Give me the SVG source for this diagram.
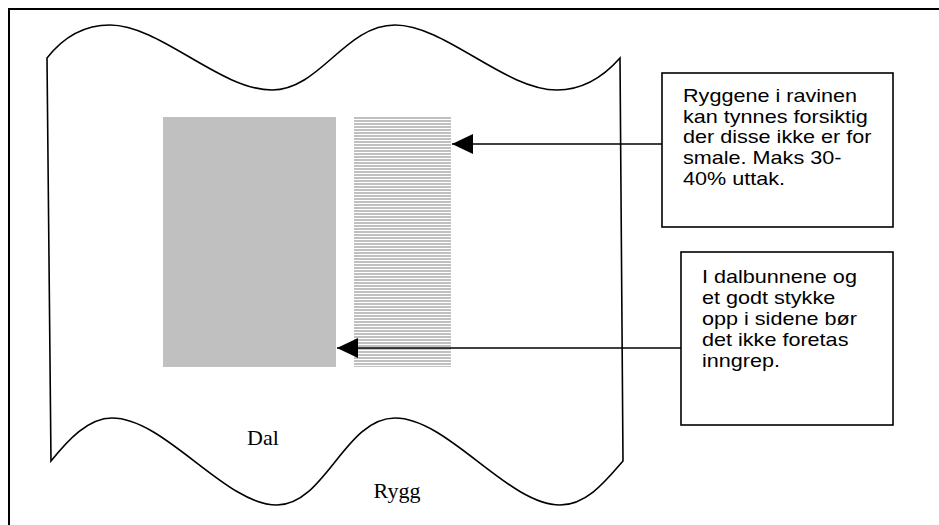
<svg xmlns="http://www.w3.org/2000/svg" width="939" height="525" viewBox="0 0 939 525">
<defs>
<style>
.frame{fill:none;stroke:#000;stroke-width:2}
.wave{fill:none;stroke:#000;stroke-width:1.6}
.box{fill:#fff;stroke:#000;stroke-width:1.6}
.note{font-family:"Liberation Sans",Arial,sans-serif;font-size:18px;fill:#000}
.lbl{font-family:"Liberation Serif","Times New Roman",serif;font-size:22px;fill:#000;text-anchor:middle}
.conn{stroke:#000;stroke-width:1.6;fill:none}
</style>
<pattern id="stripes" x="0" y="117" width="8" height="3" patternUnits="userSpaceOnUse">
<rect x="0" y="0" width="8" height="3" fill="#ffffff"/>
<rect x="0" y="0" width="8" height="2" fill="#c0c0c0"/>
</pattern>
<marker id="arr" markerWidth="21" markerHeight="20" refX="21" refY="10" orient="auto" markerUnits="userSpaceOnUse">
<path d="M0,0 L21,10 L0,20 Z" fill="#000"/>
</marker>
</defs>
<g id="frame">
<path class="frame" d="M9,525 L9,9 L939,9"/>
</g>
<g id="ravine">
<path class="wave" d="M47,58 C65,35 85,25 110,25 C160,25 220,90 272,90 C320,90 345,25 395,25 C445,25 505,90 557,90 C585,90 605,75 620,58 L623,461 C608,478 588,505 560,505 C508,505 448,418 395,418 C345,418 325,505 277,505 C225,505 165,418 112,418 C88,418 68,440 51,461 Z"/>
<rect id="dal-area" x="163" y="117" width="173" height="250" fill="#c0c0c0"/>
<rect id="rygg-area" x="354" y="117" width="97" height="250" fill="url(#stripes)"/>
<text class="lbl" x="263" y="445">Dal</text>
<text class="lbl" x="397" y="498">Rygg</text>
</g>
<g id="connectors">
<line class="conn" x1="662" y1="144" x2="452" y2="144" marker-end="url(#arr)"/>
<line class="conn" x1="681" y1="348" x2="337" y2="348" marker-end="url(#arr)"/>
</g>
<g id="note-rygg">
<rect class="box" x="662" y="73" width="231" height="154"/>
<text class="note" transform="translate(683,0) scale(1.2,1)"><tspan x="0" y="102">Ryggene i ravinen</tspan><tspan x="0" y="122.7">kan tynnes forsiktig</tspan><tspan x="0" y="143.4">der disse ikke er for</tspan><tspan x="0" y="164.1">smale. Maks 30-</tspan><tspan x="0" y="184.8">40% uttak.</tspan></text>
</g>
<g id="note-dal">
<rect class="box" x="681" y="252" width="212" height="173"/>
<text class="note" transform="translate(702,0) scale(1.2,1)"><tspan x="0" y="283">I dalbunnene og</tspan><tspan x="0" y="304">et godt stykke</tspan><tspan x="0" y="325">opp i sidene bør</tspan><tspan x="0" y="346">det ikke foretas</tspan><tspan x="0" y="367">inngrep.</tspan></text>
</g>
</svg>
